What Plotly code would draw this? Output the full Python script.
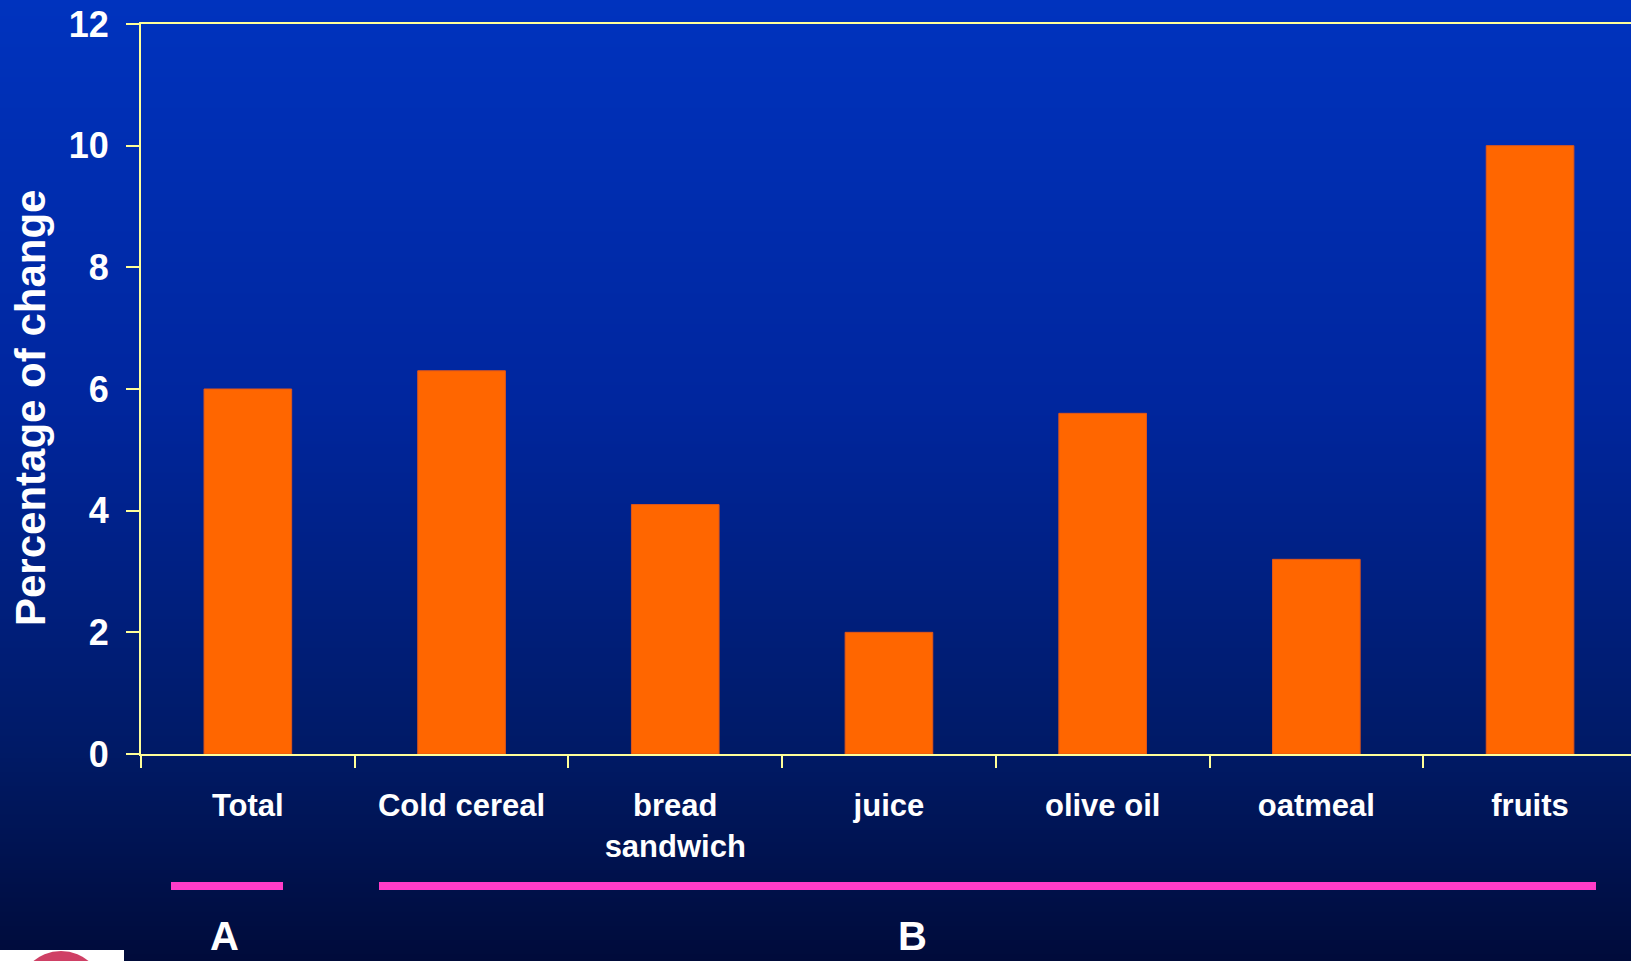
import base64
import struct
import zlib

import plotly.graph_objects as go

# ---- data ----
categories = ["Total", "Cold cereal", "bread<br>sandwich", "juice", "olive oil", "oatmeal", "fruits"]
pct_change = [6.0, 6.3, 4.1, 2.0, 5.6, 3.2, 10.0]
y_ticks = [0, 2, 4, 6, 8, 10, 12]
group_labels = ["A", "B"]

# ---- page geometry (pixels) ----
W, H = 1631, 961
L, R, T, B = 141, 0, 24, 207
PW, PH = W - L - R, H - T - B
CAT_PX = 213.7  # width of one category slot


def px(x):
    return (x - L) / PW


def py(y):
    return (H - B - y) / PH


# vertical background gradient written as a tiny PNG
stops = [(0, (0, 51, 190)), (400, (0, 38, 158)), (750, (0, 26, 102)), (961, (0, 11, 58))]


def colour_at(y):
    for (y0, c0), (y1, c1) in zip(stops, stops[1:]):
        if y0 <= y <= y1:
            t = (y - y0) / (y1 - y0)
            return tuple(round(a + (b - a) * t) for a, b in zip(c0, c1))
    return stops[-1][1]


def gradient_png(height):
    raw = b"".join(b"\x00" + bytes(colour_at(y)) for y in range(height))

    def chunk(tag, data):
        c = struct.pack(">I", len(data)) + tag + data
        return c + struct.pack(">I", zlib.crc32(tag + data) & 0xFFFFFFFF)

    png = b"\x89PNG\r\n\x1a\n"
    png += chunk(b"IHDR", struct.pack(">IIBBBBB", 1, height, 8, 2, 0, 0, 0))
    png += chunk(b"IDAT", zlib.compress(raw, 9))
    png += chunk(b"IEND", b"")
    return "data:image/png;base64," + base64.b64encode(png).decode()


FONT = "Liberation Sans, Arial, sans-serif"
AXIS_COL = "#FFFF99"

fig = go.Figure()
fig.add_trace(go.Bar(
    x=categories,
    y=pct_change,
    marker=dict(color="#FF6600", line=dict(color="#E0561A", width=1)),
    hoverinfo="x+y",
))

shapes = []
# group underline bars
shapes.append(dict(type="rect", xref="paper", yref="paper", x0=px(171), x1=px(283), y0=py(890), y1=py(882),
                   fillcolor="#FF3CC8", line=dict(width=0)))
shapes.append(dict(type="rect", xref="paper", yref="paper", x0=px(379), x1=px(1596), y0=py(890), y1=py(882),
                   fillcolor="#FF3CC8", line=dict(width=0)))
# small emblem in the lower-left corner
shapes.append(dict(type="rect", xref="paper", yref="paper", x0=px(0), x1=px(124), y0=py(961), y1=py(950),
                   fillcolor="white", line=dict(width=0)))
shapes.append(dict(type="circle", xref="paper", yref="paper", x0=px(18), x1=px(104), y0=py(1037), y1=py(951),
                   fillcolor="#CF4065", line=dict(width=0)))

annotations = [
    dict(text="Percentage of change", xref="paper", yref="paper", x=px(30), y=py(408),
         textangle=-90, showarrow=False, xanchor="center", yanchor="middle",
         font=dict(family=FONT, size=42, color="white", weight="bold")),
    dict(text=group_labels[0], xref="paper", yref="paper", x=px(224), y=py(960),
         showarrow=False, xanchor="center", yanchor="bottom",
         font=dict(family=FONT, size=40, color="white", weight="bold")),
    dict(text=group_labels[1], xref="paper", yref="paper", x=px(912), y=py(960),
         showarrow=False, xanchor="center", yanchor="bottom",
         font=dict(family=FONT, size=40, color="white", weight="bold")),
]

fig.update_layout(
    width=W, height=H,
    margin=dict(l=L, r=R, t=T, b=B, pad=0),
    paper_bgcolor="#000B3A",
    plot_bgcolor="rgba(0,0,0,0)",
    bargap=0.59,
    showlegend=False,
    shapes=shapes,
    annotations=annotations,
    images=[dict(source=gradient_png(H), xref="paper", yref="paper",
                 x=px(0), y=py(0), sizex=W / PW, sizey=H / PH,
                 xanchor="left", yanchor="top", sizing="stretch", layer="below")],
    xaxis=dict(
        range=[-0.5, -0.5 + PW / CAT_PX],
        showgrid=False, zeroline=False,
        showline=True, linecolor=AXIS_COL, linewidth=2, mirror=True,
        ticks="outside", tickson="boundaries", ticklen=12, tickwidth=2, tickcolor=AXIS_COL,
        ticklabelstandoff=23,
        tickfont=dict(family=FONT, size=31, color="white", weight="bold"),
        fixedrange=True,
    ),
    yaxis=dict(
        range=[0, 12], tickvals=y_ticks,
        showgrid=False, zeroline=False,
        showline=True, linecolor=AXIS_COL, linewidth=2,
        ticks="outside", ticklen=13, tickwidth=2, tickcolor=AXIS_COL,
        ticklabelstandoff=10,
        tickfont=dict(family=FONT, size=36, color="white", weight="bold"),
        fixedrange=True,
    ),
)

fig.write_html("out.html", config={"displayModeBar": False})
